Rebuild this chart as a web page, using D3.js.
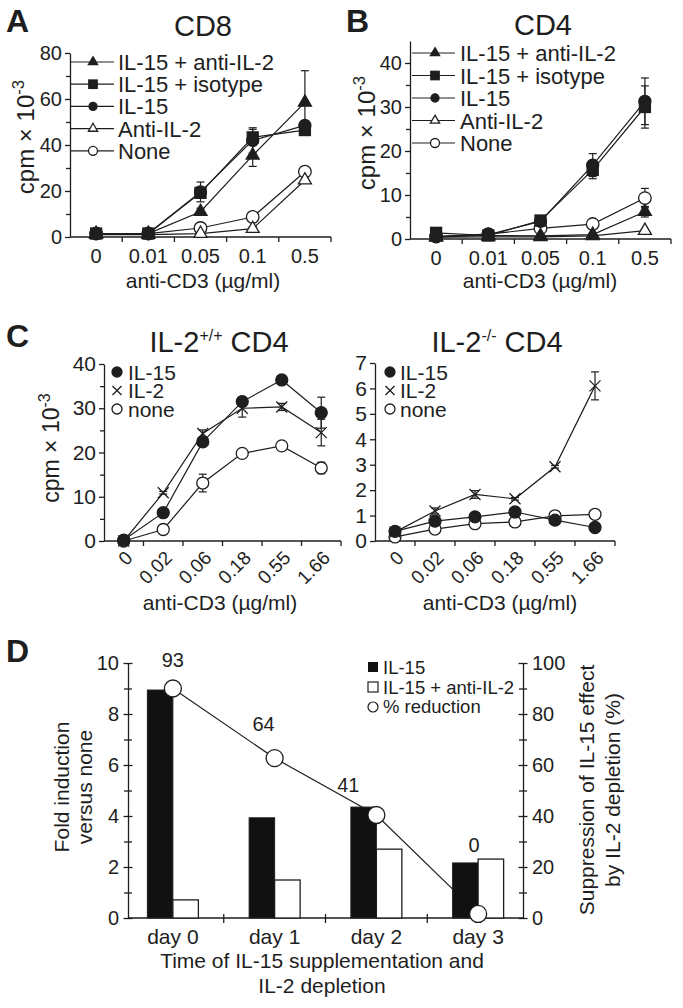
<!DOCTYPE html>
<html><head><meta charset="utf-8">
<script src="https://cdn.jsdelivr.net/npm/d3@7"></script>
<style>
body{margin:0;background:#fff}
svg{display:block}
text{font-family:Arial,"Liberation Sans",Helvetica,sans-serif;fill:#1e1e1e}
</style>
</head><body>
<svg id="c" width="683" height="1008"></svg>
<script>
// ---------- Panel A / B : categories ----------
const doseAB = ["0","0.01","0.05","0.1","0.5"];
const legendAB = ["IL-15 + anti-IL-2","IL-15 + isotype","IL-15","Anti-IL-2","None"];
// Panel A (CD8), cpm x 10^-3
const cd8_il15_antiIL2     = [1.5, 1.5, 11.0, 35.5, 58.5];
const cd8_il15_antiIL2_err = [0, 0, 1.5, 4.8, 13.8];
const cd8_il15_isotype     = [1.5, 1.5, 19.2, 43.3, 46.5];
const cd8_il15_isotype_err = [0, 0, 2.0, 3.5, 1.5];
const cd8_il15             = [1.5, 1.5, 19.6, 42.0, 48.5];
const cd8_il15_err         = [0, 0, 4.3, 5.5, 2.0];
const cd8_antiIL2          = [1.0, 1.0, 1.5, 3.6, 24.7];
const cd8_antiIL2_err      = [0, 0, 0.3, 0.8, 1.0];
const cd8_none             = [1.5, 1.5, 3.9, 8.7, 28.4];
const cd8_none_err         = [0, 0, 0.8, 1.0, 1.0];
// Panel B (CD4)
const cd4_il15_antiIL2     = [0.5, 0.8, 0.7, 1.0, 6.2];
const cd4_il15_antiIL2_err = [0, 0, 0, 0.3, 1.2];
const cd4_il15_isotype     = [1.4, 0.8, 4.2, 15.7, 30.0];
const cd4_il15_isotype_err = [0, 0, 0.4, 2.0, 4.8];
const cd4_il15             = [0.5, 1.0, 4.0, 16.8, 31.3];
const cd4_il15_err         = [0, 0, 0.4, 2.6, 5.3];
const cd4_antiIL2          = [0.4, 0.5, 0.5, 0.7, 1.9];
const cd4_antiIL2_err      = [0, 0, 0, 0, 0.3];
const cd4_none             = [0.6, 1.1, 2.4, 3.4, 9.3];
const cd4_none_err         = [0, 0, 0.3, 0.4, 2.2];
const ticksA = [0,20,40,60,80];
const minorA = [10,30,50,70];
const ticksB = [0,10,20,30,40];
const minorB = [5,15,25,35];

// ---------- Panel C ----------
const doseC = ["0","0.02","0.06","0.18","0.55","1.66"];
const legendC = ["IL-15","IL-2","none"];
const wt_il15      = [0.2, 6.4, 22.4, 31.5, 36.4, 29.0];
const wt_il15_err  = [0, 0.5, 1.0, 1.0, 0.5, 3.5];
const wt_il2       = [0, 10.9, 24.3, 30.0, 30.3, 24.5];
const wt_il2_err   = [0, 0.3, 0.8, 2.0, 0.8, 3.0];
const wt_none      = [0, 2.6, 13.1, 19.8, 21.5, 16.5];
const wt_none_err  = [0, 0.3, 2.0, 0.4, 0.5, 1.3];
const ko_il15      = [0.38, 0.78, 0.95, 1.14, 0.82, 0.53];
const ko_il15_err  = [0.05, 0.1, 0.08, 0.1, 0.12, 0.05];
const ko_il2       = [0.35, 1.18, 1.83, 1.66, 2.92, 6.1];
const ko_il2_err   = [0.05, 0.12, 0.15, 0.05, 0.05, 0.55];
const ko_none      = [0.16, 0.47, 0.68, 0.75, 0.99, 1.05];
const ko_none_err  = [0.03, 0.05, 0.05, 0.05, 0.08, 0.05];
const ticksCwt = [0,10,20,30,40];
const minorCwt = [5,15,25,35];
const ticksCko = [0,1,2,3,4,5,6,7];

// ---------- Panel D ----------
const daysD = ["day 0","day 1","day 2","day 3"];
const legendD = ["IL-15","IL-15 + anti-IL-2","% reduction"];
const foldIL15 = [8.94, 3.93, 4.35, 2.16];
const foldIL15antiIL2 = [0.71, 1.49, 2.70, 2.31];
const pctReduction = [90, 62.7, 40.4, 1.6];
const pctLabels = ["93","64","41","0"];
const ticksDL = [0,2,4,6,8,10];
const minorDL = [1,3,5,7,9];
const ticksDR = [0,20,40,60,80,100];
const minorDR = [10,30,50,70,90];

// ================= drawing =================
const INK = "#1e1e1e";
const svg = d3.select("#c");

function marker(g, shape, filled, cx, cy, s) {
  const fill = filled ? INK : "#fff";
  let el;
  if (shape === "circle") {
    el = g.append("circle").attr("cx", cx).attr("cy", cy).attr("r", s);
  } else if (shape === "square") {
    el = g.append("rect").attr("x", cx - s).attr("y", cy - s).attr("width", 2*s).attr("height", 2*s);
  } else if (shape === "triangle") {
    const area = Math.sqrt(3) * s * s; // side = 2s
    el = g.append("path").attr("d", d3.symbol().type(d3.symbolTriangle).size(area)()).attr("transform", `translate(${cx},${cy})`);
  } else if (shape === "cross") {
    el = g.append("path").attr("d", `M${-s},${-s}L${s},${s}M${-s},${s}L${s},${-s}`).attr("transform", `translate(${cx},${cy})`)
      .attr("stroke", INK).attr("stroke-width", 1.3).attr("fill", "none");
    return el;
  }
  el.attr("fill", fill).attr("stroke", INK).attr("stroke-width", 1.3);
  return el;
}

function yTitle(x, y, size) {
  const t = svg.append("text").attr("transform", `translate(${x},${y}) rotate(-90)`)
    .attr("text-anchor", "middle").attr("font-size", size);
  t.append("tspan").text("cpm × 10");
  t.append("tspan").attr("dy", -size*0.4).attr("font-size", size*0.7).text("-3");
}

function yAxis(x0, y, major, minor, fs, pad) {
  const g = svg.append("g").attr("transform", `translate(${x0},0)`);
  g.call(d3.axisLeft(y).tickValues(major).tickSize(5).tickSizeOuter(0).tickPadding(pad).tickFormat(d3.format("d")));
  g.append("g").call(d3.axisLeft(y).tickValues(minor).tickSize(4).tickFormat(""))
    .select(".domain").remove();
  g.selectAll("path,line").attr("stroke", INK).attr("stroke-width", 1.3);
  g.selectAll("text").attr("font-size", fs).attr("font-family", null).attr("fill", INK);
  return g;
}

function linePanel(o) {
  const x = d3.scaleBand().domain(o.cats).range([o.x0, o.x1]);
  const y = d3.scaleLinear().domain([0, o.yMax]).range([o.yBase, o.yTop]);
  const cx = d => x(d) + x.bandwidth()/2;
  // axes
  yAxis(o.x0, y, o.major, o.minor, o.tickFs, 3);
  const gx = svg.append("g").attr("transform", `translate(0,${o.yBase})`);
  gx.append("line").attr("x1", o.x0).attr("x2", o.x1).attr("stroke", INK).attr("stroke-width", 1.3);
  gx.selectAll("line.bt").data(o.cats).join("line").attr("class","bt")
    .attr("x1", d => x(d) + x.step()).attr("x2", d => x(d) + x.step())
    .attr("y1", 0).attr("y2", 5).attr("stroke", INK).attr("stroke-width", 1.3);
  if (o.rotate) {
    gx.selectAll("text.xt").data(o.cats).join("text").attr("class","xt")
      .attr("transform", d => `translate(${cx(d)+10},18) rotate(-45)`)
      .attr("text-anchor", "end").attr("font-size", o.xFs).text(d => d);
  } else {
    gx.selectAll("text.xt").data(o.cats).join("text").attr("class","xt")
      .attr("x", cx).attr("y", 26).attr("text-anchor", "middle").attr("font-size", o.xFs).text(d => d);
  }
  // series
  const line = d3.line().x((d,i) => cx(o.cats[i])).y(d => y(d));
  o.series.forEach(s => {
    svg.append("path").attr("d", line(s.values)).attr("fill", "none").attr("stroke", INK).attr("stroke-width", 1.2);
  });
  o.series.forEach(s => {
    s.values.forEach((v,i) => {
      const e = s.err[i];
      if (!e) return;
      const px = cx(o.cats[i]);
      const g = svg.append("g").attr("stroke", INK).attr("stroke-width", 1.2);
      g.append("line").attr("x1", px).attr("x2", px).attr("y1", y(v-e)).attr("y2", y(v+e));
      g.append("line").attr("x1", px-4).attr("x2", px+4).attr("y1", y(v+e)).attr("y2", y(v+e));
      g.append("line").attr("x1", px-4).attr("x2", px+4).attr("y1", y(v-e)).attr("y2", y(v-e));
    });
  });
  o.series.slice().reverse().forEach(s => {
    const g = svg.append("g");
    s.values.forEach((v,i) => marker(g, s.shape, s.filled, cx(o.cats[i]), y(v), s.size));
  });
  return {x, y};
}

// ---------- Panel A ----------
svg.append("text").attr("x", 6).attr("y", 32).attr("font-size", 32).attr("font-weight", "bold").text("A");
svg.append("text").attr("x", 203).attr("y", 36).attr("text-anchor", "middle").attr("font-size", 29).text("CD8");
const seriesA = [
  {values: cd8_il15_antiIL2, err: cd8_il15_antiIL2_err, shape: "triangle", filled: true, size: 6.5, ls: 4.6},
  {values: cd8_il15_isotype, err: cd8_il15_isotype_err, shape: "square", filled: true, size: 5.5, ls: 4.2},
  {values: cd8_il15, err: cd8_il15_err, shape: "circle", filled: true, size: 6, ls: 4},
  {values: cd8_antiIL2, err: cd8_antiIL2_err, shape: "triangle", filled: false, size: 6.5, ls: 4.6},
  {values: cd8_none, err: cd8_none_err, shape: "circle", filled: false, size: 6.3, ls: 4.5}
];
linePanel({cats: doseAB, x0: 70, x1: 331, yBase: 237, yTop: 53, yMax: 80, major: ticksA, minor: minorA,
  tickFs: 20, xFs: 20, series: seriesA});
yTitle(34, 137, 24);
svg.append("text").attr("x", 203).attr("y", 288).attr("text-anchor", "middle").attr("font-size", 21).text("anti-CD3 (µg/ml)");

function legendAB_draw(lx0, lx1, mx, tx, rows, series) {
  legendAB.forEach((name, i) => {
    const yy = rows[0] + i * rows[1];
    svg.append("line").attr("x1", lx0).attr("x2", lx1).attr("y1", yy).attr("y2", yy).attr("stroke", INK).attr("stroke-width", 1.2);
    marker(svg.append("g"), series[i].shape, series[i].filled, mx, yy, series[i].ls);
    svg.append("text").attr("x", tx).attr("y", yy + 8).attr("font-size", 22).text(name);
  });
}
legendAB_draw(71, 114, 93, 118, [62, 22.2], seriesA);

// ---------- Panel B ----------
svg.append("text").attr("x", 346).attr("y", 32).attr("font-size", 32).attr("font-weight", "bold").text("B");
svg.append("text").attr("x", 543).attr("y", 35).attr("text-anchor", "middle").attr("font-size", 29).text("CD4");
const seriesB = [
  {values: cd4_il15_antiIL2, err: cd4_il15_antiIL2_err, shape: "triangle", filled: true, size: 6.5, ls: 4.6},
  {values: cd4_il15_isotype, err: cd4_il15_isotype_err, shape: "square", filled: true, size: 5.5, ls: 4.2},
  {values: cd4_il15, err: cd4_il15_err, shape: "circle", filled: true, size: 6, ls: 4},
  {values: cd4_antiIL2, err: cd4_antiIL2_err, shape: "triangle", filled: false, size: 6.5, ls: 4.6},
  {values: cd4_none, err: cd4_none_err, shape: "circle", filled: false, size: 6.3, ls: 4.5}
];
linePanel({cats: doseAB, x0: 410, x1: 671, yBase: 239, yTop: 41, yMax: 45, major: ticksB, minor: minorB,
  tickFs: 20, xFs: 20, series: seriesB});
yTitle(375, 133, 24);
svg.append("text").attr("x", 540).attr("y", 288).attr("text-anchor", "middle").attr("font-size", 21).text("anti-CD3 (µg/ml)");
legendAB_draw(412, 455, 435, 460, [53, 22.5], seriesB);

// ---------- Panel C ----------
svg.append("text").attr("x", 6).attr("y", 347).attr("font-size", 32).attr("font-weight", "bold").text("C");
function cTitle(cxp, sup) {
  const t = svg.append("text").attr("x", cxp).attr("y", 352).attr("text-anchor", "middle").attr("font-size", 29);
  t.append("tspan").text("IL-2");
  t.append("tspan").attr("dy", -11).attr("font-size", 16).text(sup);
  t.append("tspan").attr("dy", 11).text(" CD4");
}
cTitle(219, "+/+");
cTitle(497, "-/-");
const seriesCwt = [
  {values: wt_il15, err: wt_il15_err, shape: "circle", filled: true, size: 6, ls: 5},
  {values: wt_il2, err: wt_il2_err, shape: "cross", filled: true, size: 5.5, ls: 4.5},
  {values: wt_none, err: wt_none_err, shape: "circle", filled: false, size: 6, ls: 5}
];
const seriesCko = [
  {values: ko_il15, err: ko_il15_err, shape: "circle", filled: true, size: 6, ls: 5},
  {values: ko_il2, err: ko_il2_err, shape: "cross", filled: true, size: 5.5, ls: 4.5},
  {values: ko_none, err: ko_none_err, shape: "circle", filled: false, size: 6, ls: 5}
];
linePanel({cats: doseC, x0: 104, x1: 341, yBase: 541, yTop: 364, yMax: 40, major: ticksCwt, minor: minorCwt,
  tickFs: 21, xFs: 19, rotate: true, series: seriesCwt});
linePanel({cats: doseC, x0: 375, x1: 615, yBase: 541, yTop: 363, yMax: 7, major: ticksCko, minor: [],
  tickFs: 21, xFs: 19, rotate: true, series: seriesCko});
yTitle(59, 448, 23);
svg.append("text").attr("x", 220).attr("y", 610).attr("text-anchor", "middle").attr("font-size", 21).text("anti-CD3 (µg/ml)");
svg.append("text").attr("x", 500).attr("y", 610).attr("text-anchor", "middle").attr("font-size", 21).text("anti-CD3 (µg/ml)");
function legendC_draw(mx, tx, series) {
  legendC.forEach((name, i) => {
    const yy = 372 + i * 18.5;
    marker(svg.append("g"), series[i].shape, series[i].filled, mx, yy, series[i].ls);
    svg.append("text").attr("x", tx).attr("y", yy + 7.5).attr("font-size", 21).text(name);
  });
}
legendC_draw(117, 128, seriesCwt);
legendC_draw(390, 400, seriesCko);

// ---------- Panel D ----------
svg.append("text").attr("x", 6).attr("y", 662).attr("font-size", 32).attr("font-weight", "bold").text("D");
const xD = d3.scaleBand().domain(daysD).range([122, 529]);
const yD = d3.scaleLinear().domain([0, 10]).range([918, 663]);
const yD2 = d3.scaleLinear().domain([0, 100]).range([918, 663]);
const cD = d => xD(d) + xD.bandwidth()/2;
const bw = 25.5;

function crossAxis(g) {
  g.selectAll(".tick line").each(function() {
    const l = d3.select(this);
    if (l.attr("x2") !== null && +l.attr("x2") !== 0) { const v = Math.abs(+l.attr("x2")); l.attr("x1", -v/2).attr("x2", v/2); }
    if (l.attr("y2") !== null && +l.attr("y2") !== 0) { const v = Math.abs(+l.attr("y2")); l.attr("y1", -v/2).attr("y2", v/2); }
  });
  g.selectAll("path,line").attr("stroke", INK).attr("stroke-width", 1.3);
  g.selectAll("text").attr("font-size", 20).attr("font-family", null).attr("fill", INK);
}
// left axis
const gL = svg.append("g").attr("transform", "translate(128,0)");
gL.call(d3.axisLeft(yD).tickValues(ticksDL).tickSize(9).tickSizeOuter(0).tickPadding(0));
gL.append("g").call(d3.axisLeft(yD).tickValues(minorDL).tickSize(8).tickFormat("")).select(".domain").remove();
crossAxis(gL);
gL.selectAll("text").attr("x", -9);
// right axis
const gR = svg.append("g").attr("transform", "translate(523,0)");
gR.call(d3.axisRight(yD2).tickValues(ticksDR).tickSize(9).tickSizeOuter(0).tickPadding(0));
gR.append("g").call(d3.axisRight(yD2).tickValues(minorDR).tickSize(8).tickFormat("")).select(".domain").remove();
crossAxis(gR);
gR.selectAll("text").attr("x", 9);
// x axis
const gX = svg.append("g").attr("transform", "translate(0,918)");
gX.append("line").attr("x1", 128).attr("x2", 523).attr("stroke", INK).attr("stroke-width", 1.3);
gX.selectAll("line.bt").data(daysD.slice(1)).join("line").attr("class", "bt")
  .attr("x1", d => xD(d)).attr("x2", d => xD(d)).attr("y1", -4).attr("y2", 5).attr("stroke", INK).attr("stroke-width", 1.3);
gX.selectAll("text.xt").data(daysD).join("text").attr("class", "xt")
  .attr("x", cD).attr("y", 26).attr("text-anchor", "middle").attr("font-size", 21).text(d => d);

// % reduction line (behind bars)
svg.append("path").attr("d", d3.line().x((d,i) => cD(daysD[i])).y(d => yD2(d))(pctReduction))
  .attr("fill", "none").attr("stroke", INK).attr("stroke-width", 1.2);
// bars
svg.selectAll("rect.b1").data(foldIL15).join("rect").attr("class", "b1")
  .attr("x", (d,i) => cD(daysD[i]) - bw).attr("width", bw)
  .attr("y", d => yD(d)).attr("height", d => yD(0) - yD(d)).attr("fill", "#111").attr("stroke", INK).attr("stroke-width", 1);
svg.selectAll("rect.b2").data(foldIL15antiIL2).join("rect").attr("class", "b2")
  .attr("x", (d,i) => cD(daysD[i])).attr("width", bw)
  .attr("y", d => yD(d)).attr("height", d => yD(0) - yD(d)).attr("fill", "#fff").attr("stroke", INK).attr("stroke-width", 1.3);
// circles
svg.selectAll("circle.pr").data(pctReduction).join("circle").attr("class", "pr")
  .attr("cx", (d,i) => cD(daysD[i])).attr("cy", d => yD2(d)).attr("r", 8.5)
  .attr("fill", "#fff").attr("stroke", INK).attr("stroke-width", 1.3);
// value labels (offsets relative to the marker)
const labelOffset = [[0,-22],[-11,-27],[-28,-23],[-4,-62]];
svg.selectAll("text.pl").data(pctLabels).join("text").attr("class", "pl")
  .attr("x", (d,i) => cD(daysD[i]) + labelOffset[i][0])
  .attr("y", (d,i) => yD2(pctReduction[i]) + labelOffset[i][1])
  .attr("text-anchor", "middle").attr("font-size", 20).text(d => d);
// legend D
svg.append("rect").attr("x", 368).attr("y", 662).attr("width", 10).attr("height", 10).attr("fill", "#111");
svg.append("rect").attr("x", 368).attr("y", 682).attr("width", 10).attr("height", 10).attr("fill", "#fff").attr("stroke", INK).attr("stroke-width", 1.2);
svg.append("circle").attr("cx", 373).attr("cy", 707).attr("r", 5).attr("fill", "#fff").attr("stroke", INK).attr("stroke-width", 1.2);
legendD.forEach((t,i) => svg.append("text").attr("x", 383).attr("y", 674 + i*19.5).attr("font-size", 18.5).text(t));
// axis titles D
const lt = svg.append("text").attr("transform", "translate(69,787) rotate(-90)").attr("text-anchor", "middle").attr("font-size", 21);
lt.append("tspan").attr("x", 0).text("Fold induction");
lt.append("tspan").attr("x", 0).attr("dy", 23).text("versus none");
const rt = svg.append("text").attr("transform", "translate(594,790) rotate(-90)").attr("text-anchor", "middle").attr("font-size", 21);
rt.append("tspan").attr("x", 0).text("Suppression of IL-15 effect");
rt.append("tspan").attr("x", 0).attr("dy", 26).text("by IL-2 depletion (%)");
svg.append("text").attr("x", 322).attr("y", 968).attr("text-anchor", "middle").attr("font-size", 21).text("Time of IL-15 supplementation and");
svg.append("text").attr("x", 322).attr("y", 993).attr("text-anchor", "middle").attr("font-size", 21).text("IL-2 depletion");
</script>
</body></html>
